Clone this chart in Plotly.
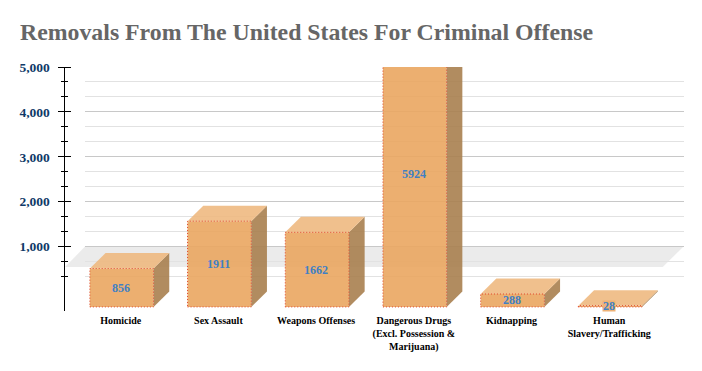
import plotly.graph_objects as go

# ---- data ----
categories = ["Homicide", "Sex Assault", "Weapons Offenses",
              "Dangerous Drugs<br>(Excl. Possession &amp;<br>Marijuana)",
              "Kidnapping", "Human<br>Slavery/Trafficking"]
values = [856, 1911, 1662, 5924, 288, 28]
major_ticks = [1000, 2000, 3000, 4000, 5000]
major_labels = ["1,000", "2,000", "3,000", "4,000", "5,000"]
minor_ticks = [333.3, 666.7, 1333.3, 1666.7, 2333.3, 2666.7, 3333.3, 3666.7, 4333.3, 4666.7]
floor_level = 1000

# ---- styling / 3D geometry ----
W, H = 702, 371
PLOT_L, PLOT_R, PLOT_T, PLOT_B = 85, 683.5, 67, 311
AXIS_X = 63.5
STEP_PX = 97.7
CENTER0_PX = 121.7
BAR_W = 63.7 / STEP_PX
DX = 15.7 / STEP_PX
Y_MIN, Y_MAX = -435, 5000
DEPTH = 345            # front face sits this many units below the back wall
SERIF = "Liberation Serif"
FRONT = "rgba(234,166,96,0.9)"
TOP = "rgba(238,185,129,0.9)"
SIDE = "rgba(169,127,79,0.9)"
DOT = "rgba(224,70,45,1)"

x_range = [(PLOT_L - CENTER0_PX) / STEP_PX, (PLOT_R - CENTER0_PX) / STEP_PX]
xs = list(range(len(values)))
px_per_unit = (PLOT_B - PLOT_T) / (Y_MAX - Y_MIN)

fig = go.Figure()

# front faces
fig.add_trace(go.Bar(x=xs, y=values, base=[-DEPTH] * len(values), width=BAR_W,
                     marker=dict(color=FRONT, line=dict(width=0)),
                     hoverinfo="skip", showlegend=False))

for x, v in zip(xs, values):
    l, r = x - BAR_W / 2, x + BAR_W / 2
    top_y = v - DEPTH
    # side face
    fig.add_trace(go.Scatter(x=[r, r + DX, r + DX, r, r], y=[-DEPTH, 0, v, top_y, -DEPTH],
                             mode="lines", fill="toself", fillcolor=SIDE, line=dict(width=0),
                             hoverinfo="skip", showlegend=False))
    # top face
    fig.add_trace(go.Scatter(x=[l, l + DX, r + DX, r, l], y=[top_y, v, v, top_y, top_y],
                             mode="lines", fill="toself", fillcolor=TOP, line=dict(width=0),
                             hoverinfo="skip", showlegend=False))
    # dotted outline of the front face
    fig.add_trace(go.Scatter(x=[l, r, r, l, l], y=[-DEPTH, -DEPTH, top_y, top_y, -DEPTH],
                             mode="lines", line=dict(color=DOT, width=1, dash="1px,2px"),
                             hoverinfo="skip", showlegend=False))

# invisible trace so the crossing tick axis is drawn
fig.add_trace(go.Scatter(x=[0], y=[1000], yaxis="y2", mode="markers",
                         marker=dict(size=1, opacity=0), hoverinfo="skip", showlegend=False))

# value labels
annotations = []
for x, v in zip(xs, values):
    small = v < 100
    ann = dict(x=x - 0.01, y=-DEPTH + v / 2, xref="x", yref="y", text=str(v), showarrow=False,
               font=dict(family=SERIF, size=12, color="#3f80c4", weight="bold"), borderpad=0)
    if small:
        ann.update(bgcolor="rgb(238,178,118)", height=10)
    annotations.append(ann)

# floor band (pixel placed, behind the grid)
def fx(p): return p / W
def fy(p): return 1 - p / H
floor_top = PLOT_B - (floor_level - Y_MIN) * px_per_unit
fig.add_shape(type="path", xref="paper", yref="paper", layer="below", line=dict(width=0),
              fillcolor="rgba(225,225,225,0.65)",
              path=f"M {fx(65)} {fy(floor_top + 20.5)} L {fx(85)} {fy(floor_top)} "
                   f"L {fx(683.5)} {fy(floor_top)} L {fx(662.7)} {fy(floor_top + 20.5)} Z")

fig.update_layout(
    width=W, height=H, autosize=False,
    margin=dict(l=0, r=0, t=0, b=0),
    paper_bgcolor="white", plot_bgcolor="rgba(0,0,0,0)",
    showlegend=False, barmode="overlay",
    annotations=annotations,
    title=dict(text="<b>Removals From The United States For Criminal Offense</b>",
               x=20 / W, xanchor="left", y=1 - 32 / H, yanchor="middle", automargin=False,
               font=dict(family=SERIF, size=23.8, color="#666666")),
    xaxis=dict(domain=[PLOT_L / W, PLOT_R / W], range=x_range, showgrid=False, zeroline=False,
               showline=False, ticks="", tickmode="array", tickvals=[x - 0.01 for x in xs], ticktext=categories,
               tickangle=0, ticklabelstandoff=2, automargin=False,
               tickfont=dict(family=SERIF, size=10, color="#000000", weight="bold")),
    yaxis=dict(domain=[1 - PLOT_B / H, 1 - PLOT_T / H], range=[Y_MIN, Y_MAX], automargin=False,
               anchor="free", position=AXIS_X / W, side="left",
               showline=True, linecolor="#000000", linewidth=1, zeroline=False,
               tickmode="array", tickvals=major_ticks, ticktext=major_labels,
               ticks="outside", ticklen=6, tickwidth=1, tickcolor="#000000",
               ticklabelstandoff=5,
               showgrid=True, gridcolor="#c8c8c8", gridwidth=1,
               tickfont=dict(family=SERIF, size=13.5, color="#0f3a68", weight="bold"),
               minor=dict(tickmode="array", tickvals=minor_ticks, ticks="outside", ticklen=3,
                          tickwidth=1, tickcolor="#000000", showgrid=True,
                          gridcolor="#e2e2e2", gridwidth=1)),
    yaxis2=dict(domain=[1 - PLOT_B / H, 1 - PLOT_T / H], range=[Y_MIN, Y_MAX], overlaying="y",
                anchor="free", position=AXIS_X / W, side="right", showline=False, showgrid=False,
                zeroline=False, showticklabels=False,
                tickmode="array", tickvals=major_ticks, ticks="outside", ticklen=6, tickwidth=1,
                tickcolor="#000000",
                minor=dict(tickmode="array", tickvals=minor_ticks, ticks="outside", ticklen=3,
                           tickwidth=1, tickcolor="#000000", showgrid=False)),
)

fig.write_html("out.html", config=dict(displayModeBar=False),
               post_script="document.body.style.margin='0';document.documentElement.style.overflow='hidden';")
